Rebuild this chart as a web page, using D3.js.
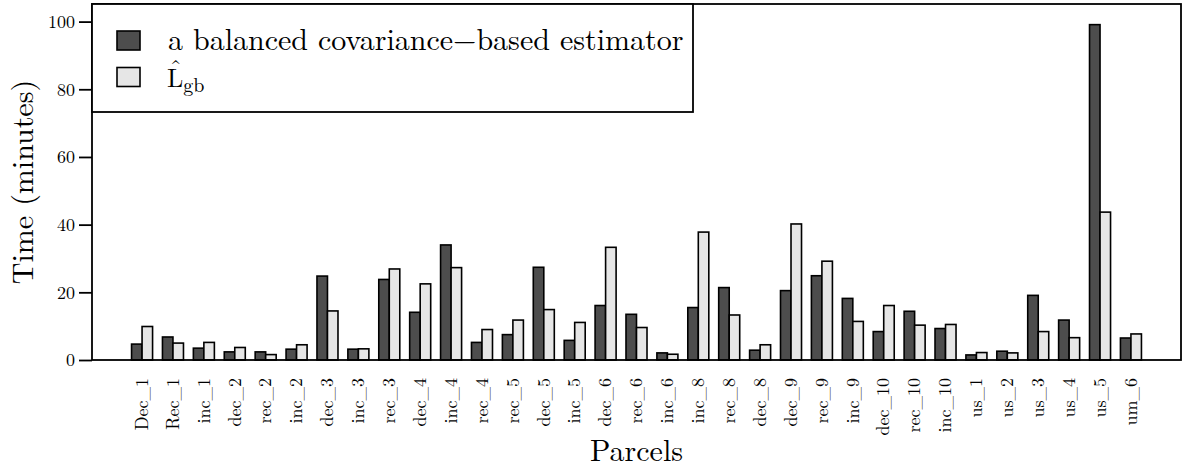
<!DOCTYPE html>
<html>
<head>
<meta charset="utf-8">
<script src="https://cdn.jsdelivr.net/npm/d3@7"></script>
<style>
  body { margin: 0; background: #fff; }
</style>
</head>
<body>
<div id="chart"></div>
<script>
// parcels on the x axis
const parcels = ["Dec_1", "Rec_1", "inc_1", "dec_2", "rec_2", "inc_2", "dec_3", "inc_3", "rec_3",
  "dec_4", "inc_4", "rec_4", "rec_5", "dec_5", "inc_5", "dec_6", "rec_6", "inc_6", "inc_8",
  "rec_8", "dec_8", "dec_9", "rec_9", "inc_9", "dec_10", "rec_10", "inc_10", "us_1", "us_2",
  "us_3", "us_4", "us_5", "um_6"];

// time in minutes
const covTimes = [4.7, 6.8, 3.5, 2.4, 2.4, 3.2, 24.8, 3.2, 23.8, 14.1, 34.0, 5.2, 7.5, 27.4,
  5.8, 16.1, 13.5, 2.1, 15.5, 21.4, 2.9, 20.5, 24.9, 18.2, 8.4, 14.4, 9.3, 1.5, 2.6, 19.1,
  11.8, 99.1, 6.5];
const lgbTimes = [9.9, 5.0, 5.2, 3.7, 1.6, 4.5, 14.5, 3.3, 26.9, 22.5, 27.3, 9.0, 11.8, 14.9,
  11.1, 33.3, 9.6, 1.7, 37.8, 13.3, 4.5, 40.2, 29.2, 11.4, 16.1, 10.3, 10.5, 2.2, 2.1, 8.4,
  6.6, 43.7, 7.7];

const yTicks = [0, 20, 40, 60, 80, 100];
const seriesKeys = ["cov", "lgb"];

const width = 1184, height = 471;
const margin = {top: 4, right: 3, bottom: 111, left: 92};
const serif = "'Latin Modern Roman', 'CMU Serif', 'Liberation Serif', serif";

const svg = d3.select("#chart").append("svg")
    .attr("width", width)
    .attr("height", height);

const x = d3.scaleBand()
    .domain(parcels)
    .range([margin.left, width - margin.right])
    .paddingInner(0.32)
    .paddingOuter(1.28);

const xs = d3.scaleBand()
    .domain(seriesKeys)
    .range([0, x.bandwidth()]);

const y = d3.scaleLinear()
    .domain([0, 105.2])
    .range([height - margin.bottom, margin.top]);

const color = d3.scaleOrdinal()
    .domain(seriesKeys)
    .range(["#4d4d4d", "#e6e6e6"]);

const rows = parcels.map((p, i) => ({parcel: p, cov: covTimes[i], lgb: lgbTimes[i]}));

// bars
const groups = svg.append("g").selectAll("g")
    .data(rows)
    .join("g")
    .attr("transform", d => `translate(${x(d.parcel)},0)`);

groups.selectAll("rect")
    .data(d => seriesKeys.map(k => ({key: k, value: d[k]})))
    .join("rect")
    .attr("x", d => xs(d.key))
    .attr("y", d => y(d.value))
    .attr("width", xs.bandwidth())
    .attr("height", d => y(0) - y(d.value))
    .attr("fill", d => color(d.key))
    .attr("stroke", "#000")
    .attr("stroke-width", 1.6);

// frame
svg.append("rect")
    .attr("x", margin.left)
    .attr("y", margin.top)
    .attr("width", width - margin.right - margin.left)
    .attr("height", y(0) - margin.top)
    .attr("fill", "none")
    .attr("stroke", "#000")
    .attr("stroke-width", 1.8);

// y axis
const yAxis = svg.append("g")
    .attr("transform", `translate(${margin.left},0)`)
    .call(d3.axisLeft(y).tickValues(yTicks).tickSize(13).tickPadding(4));
yAxis.select(".domain").remove();
yAxis.selectAll(".tick line").attr("stroke-width", 1.8);
yAxis.selectAll("text").attr("font-size", 18);

// x labels, rotated
svg.append("g").selectAll("text")
    .data(parcels)
    .join("text")
    .attr("transform", d => `translate(${x(d) + x.bandwidth() / 2},378) rotate(-90)`)
    .attr("dy", "0.32em")
    .attr("text-anchor", "end")
    .attr("font-size", 18)
    .text(d => d);

// axis titles
svg.append("text")
    .attr("x", (margin.left + width - margin.right) / 2)
    .attr("y", 461)
    .attr("text-anchor", "middle")
    .attr("font-size", 30)
    .text("Parcels");

svg.append("text")
    .attr("transform", `translate(33,${(margin.top + y(0)) / 2}) rotate(-90)`)
    .attr("text-anchor", "middle")
    .attr("font-size", 30)
    .text("Time (minutes)");

// legend
const legend = svg.append("g");
legend.append("rect")
    .attr("x", margin.left)
    .attr("y", margin.top)
    .attr("width", 601)
    .attr("height", 108)
    .attr("fill", "#fff")
    .attr("stroke", "#000")
    .attr("stroke-width", 1.8);

const items = legend.selectAll("g.item")
    .data(seriesKeys)
    .join("g")
    .attr("class", "item")
    .attr("transform", (d, i) => `translate(117,${31 + i * 36.5})`);

items.append("rect")
    .attr("width", 23)
    .attr("height", 19)
    .attr("fill", d => color(d))
    .attr("stroke", "#000")
    .attr("stroke-width", 1.6);

items.filter(d => d === "cov").append("text")
    .attr("x", 51)
    .attr("y", 19)
    .attr("font-size", 30)
    .text("a balanced covariance\u2212based estimator");

const lgbItem = items.filter(d => d === "lgb");
const lgbLabel = lgbItem.append("text")
    .attr("x", 50)
    .attr("y", 19)
    .attr("font-size", 26);
lgbLabel.append("tspan").attr("class", "big-l").text("L");
lgbLabel.append("tspan")
    .attr("dy", 5)
    .attr("font-size", 20)
    .text("gb");

// hat over the L
const hat = lgbItem.append("text")
    .attr("y", 9.5)
    .attr("text-anchor", "middle")
    .attr("font-size", 25)
    .text("\u02C6");

svg.selectAll("text").style("font-family", serif).style("fill", "#000");

const lWidth = lgbLabel.select(".big-l").node().getComputedTextLength();
hat.attr("x", 50 + lWidth / 2 + 0.5);
</script>
</body>
</html>
